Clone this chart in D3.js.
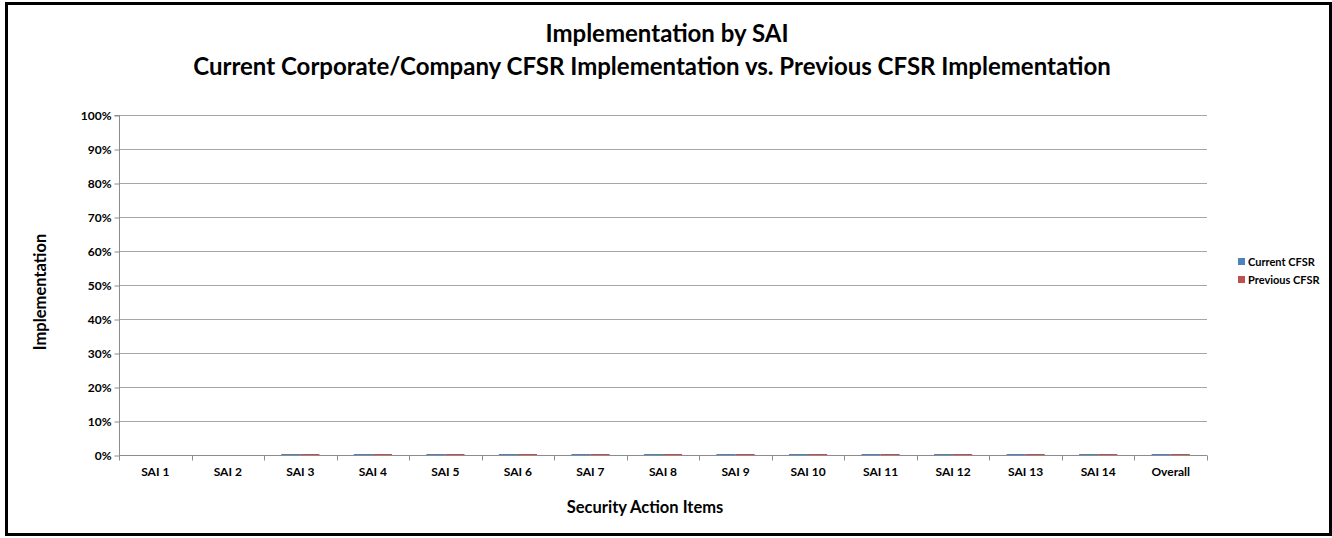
<!DOCTYPE html>
<html>
<head>
<meta charset="utf-8">
<script src="https://cdn.jsdelivr.net/npm/d3@7"></script>
<style>
  body { margin: 0; background: #fff; }
  svg { display: block; font-family: Lato, "Open Sans", sans-serif; }
</style>
</head>
<body>
<svg width="1332" height="538"></svg>
<script>
var categories = ["SAI 1", "SAI 2", "SAI 3", "SAI 4", "SAI 5", "SAI 6", "SAI 7", "SAI 8",
  "SAI 9", "SAI 10", "SAI 11", "SAI 12", "SAI 13", "SAI 14", "Overall"];
var seriesNames = ["Current CFSR", "Previous CFSR"];
var seriesColors = ["#4F81BD", "#C0504D"];
// no data for SAI 1 and SAI 2, everything else sits at 0%
var currentValues = [null, null, 0, 0, 0, 0, 0, 0, 0, 0, 0, 0, 0, 0, 0];
var previousValues = [null, null, 0, 0, 0, 0, 0, 0, 0, 0, 0, 0, 0, 0, 0];
var yTicks = [0, 0.1, 0.2, 0.3, 0.4, 0.5, 0.6, 0.7, 0.8, 0.9, 1];

var svg = d3.select("svg"),
  width = +svg.attr("width"),
  height = +svg.attr("height");

var plot = { left: 119, right: 1207, top: 115, bottom: 455 };

// outer frame
svg.append("rect")
  .attr("x", 6.5).attr("y", 3.5)
  .attr("width", 1324).attr("height", 531)
  .attr("fill", "none").attr("stroke", "#000").attr("stroke-width", 3);

var x = d3.scaleBand().domain(categories).range([plot.left, plot.right]);
var xs = d3.scaleBand().domain(seriesNames).range([0, x.bandwidth()]).paddingOuter(0.9);
var y = d3.scaleLinear().domain([0, 1]).range([plot.bottom, plot.top]);

// gridlines
svg.append("g")
  .selectAll("line")
  .data(yTicks.slice(1))
  .enter()
  .append("line")
  .attr("x1", plot.left).attr("x2", plot.right)
  .attr("y1", function (d) { return Math.round(y(d)) + 0.5; })
  .attr("y2", function (d) { return Math.round(y(d)) + 0.5; })
  .attr("stroke", "#a6a6a6");

// y axis
var yAxis = d3.axisLeft(y).tickValues(yTicks).tickFormat(d3.format(".0%")).tickSize(5).tickPadding(3);
var gy = svg.append("g").attr("transform", "translate(" + (plot.left + 0.5) + ",0.5)").call(yAxis);
gy.select(".domain").attr("stroke", "#8c8c8c").attr("d", "M-5," + plot.top + "H0V" + (plot.bottom + 5));
gy.selectAll(".tick line").attr("stroke", "#8c8c8c");
gy.selectAll(".tick text").attr("font-family", "Lato").attr("font-weight", "bold")
  .attr("font-size", 12).attr("fill", "#000");

// x axis
var xAxis = d3.axisBottom(x).tickSize(0).tickPadding(12);
var gx = svg.append("g").attr("transform", "translate(0," + (plot.bottom + 0.5) + ")").call(xAxis);
gx.select(".domain").attr("stroke", "#8c8c8c").attr("d", "M" + plot.left + ",0H" + plot.right);
gx.selectAll(".tick text").attr("font-family", "Lato").attr("font-weight", "bold")
  .attr("font-size", 12).attr("fill", "#000");
gx.selectAll(".sep")
  .data(categories)
  .enter()
  .append("line")
  .attr("class", "sep")
  .attr("x1", function (d) { return Math.round(x(d) + x.bandwidth()) + 0.5; })
  .attr("x2", function (d) { return Math.round(x(d) + x.bandwidth()) + 0.5; })
  .attr("y1", 0).attr("y2", 5)
  .attr("stroke", "#8c8c8c");

// bars
var series = [currentValues, previousValues];
series.forEach(function (vals, si) {
  var g = svg.append("g");
  var pts = categories.map(function (c, i) { return { cat: c, v: vals[i] }; })
    .filter(function (d) { return d.v !== null; });
  g.selectAll("rect")
    .data(pts)
    .enter()
    .append("rect")
    .attr("x", function (d) { return x(d.cat) + xs(seriesNames[si]); })
    .attr("y", function (d) { return y(d.v) - 1; })
    .attr("width", xs.bandwidth())
    .attr("height", function (d) { return y(0) - y(d.v) + 1; })
    .attr("fill", seriesColors[si]);
});

// titles
svg.append("text")
  .attr("x", 667).attr("y", 42)
  .attr("text-anchor", "middle")
  .attr("font-weight", "bold").attr("font-size", 24)
  .text("Implementation by SAI");
svg.append("text")
  .attr("x", 652).attr("y", 75)
  .attr("text-anchor", "middle")
  .attr("font-weight", "bold").attr("font-size", 24)
  .text("Current Corporate/Company CFSR Implementation vs. Previous CFSR Implementation");

svg.append("text")
  .attr("x", 645).attr("y", 513)
  .attr("text-anchor", "middle")
  .attr("font-weight", "bold").attr("font-size", 16.5)
  .text("Security Action Items");

svg.append("text")
  .attr("transform", "translate(46,292) rotate(-90)")
  .attr("text-anchor", "middle")
  .attr("font-weight", "bold").attr("font-size", 16.5)
  .text("Implementation");

// legend
var legend = svg.append("g").attr("transform", "translate(1238,258)");
seriesNames.forEach(function (name, i) {
  legend.append("rect")
    .attr("x", 0).attr("y", i * 18)
    .attr("width", 7).attr("height", 7)
    .attr("fill", seriesColors[i]);
  legend.append("text")
    .attr("x", 10).attr("y", i * 18 + 7.5)
    .attr("font-weight", "bold").attr("font-size", 11)
    .text(name);
});
</script>
</body>
</html>
